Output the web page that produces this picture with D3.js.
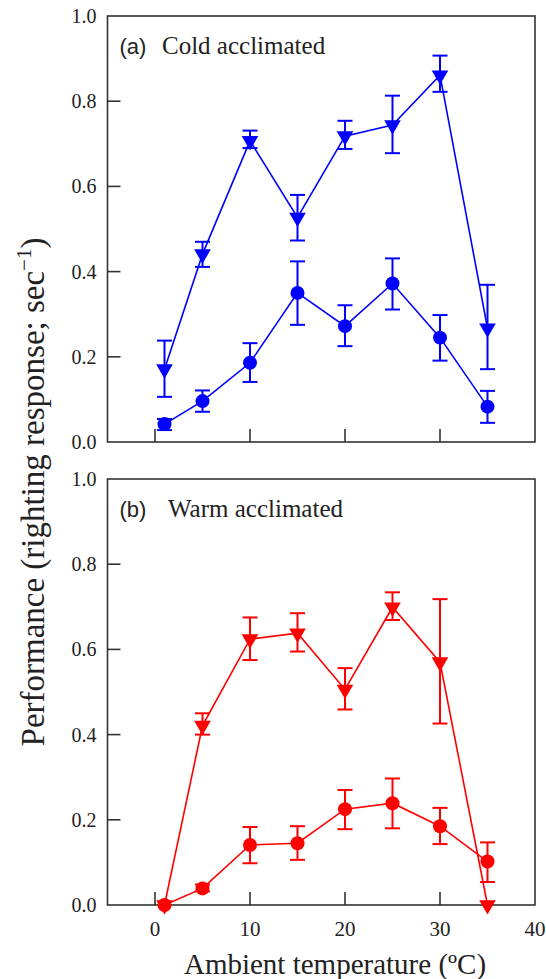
<!DOCTYPE html>
<html lang="en">
<head>
<meta charset="UTF-8">
<title>Righting performance vs ambient temperature</title>
<script src="https://d3js.org/d3.v7.min.js"></script>
<style>
  body { margin: 0; background: white; }
  text { font-family: "Liberation Serif", "Times New Roman", serif; fill: #222; }
</style>
</head>
<body>
<script>
// ambient temperatures (x) shared by all series
const temps = [1, 5, 10, 15, 20, 25, 30, 35];

// (a) cold acclimated
const coldTri   = [0.171, 0.441, 0.707, 0.527, 0.718, 0.744, 0.861, 0.267];
const coldTriLo = [0.106, 0.411, 0.690, 0.473, 0.688, 0.678, 0.822, 0.171];
const coldTriHi = [0.238, 0.470, 0.731, 0.580, 0.754, 0.813, 0.907, 0.369];
const coldCirc   = [0.042, 0.096, 0.186, 0.350, 0.272, 0.372, 0.245, 0.083];
const coldCircLo = [0.028, 0.071, 0.141, 0.275, 0.225, 0.311, 0.191, 0.045];
const coldCircHi = [0.054, 0.121, 0.232, 0.424, 0.321, 0.431, 0.298, 0.120];

// (b) warm acclimated
const warmTri   = [0.000, 0.421, 0.624, 0.638, 0.506, 0.699, 0.570, 0.000];
const warmTriLo = [null, 0.400, 0.575, 0.595, 0.459, 0.669, 0.426, null];
const warmTriHi = [null, 0.450, 0.675, 0.685, 0.556, 0.734, 0.718, null];
const warmCirc   = [0.000, 0.039, 0.141, 0.145, 0.225, 0.239, 0.185, 0.102];
const warmCircLo = [null, 0.032, 0.098, 0.106, 0.178, 0.180, 0.143, 0.054];
const warmCircHi = [null, 0.048, 0.183, 0.185, 0.270, 0.297, 0.228, 0.147];

const xTicks = [0, 10, 20, 30, 40];
const yTicks = [0.0, 0.2, 0.4, 0.6, 0.8, 1.0];

const width = 546, height = 979;
const left = 107.5, right = 535;

const svg = d3.select('body').append('svg')
    .attr('width', width)
    .attr('height', height);

const x = d3.scaleLinear().domain([-5, 40]).range([left, right]);

function series(vals, lo, hi) {
    return temps.map((t, i) => ({ t: t, v: vals[i], lo: lo[i], hi: hi[i] }));
}

function drawPanel(top, bottom, color, tri, circ, label, name, nameX, showXLabels) {
    const y = d3.scaleLinear().domain([0, 1]).range([bottom, top]);
    const g = svg.append('g');

    // frame
    g.append('rect')
        .attr('x', left).attr('y', top)
        .attr('width', right - left).attr('height', bottom - top)
        .attr('fill', 'none').attr('stroke', '#333').attr('stroke-width', 1.6);

    // inward ticks
    g.selectAll('.xt').data(xTicks.slice(0, -1)).enter().append('line')
        .attr('x1', d => x(d)).attr('x2', d => x(d))
        .attr('y1', bottom).attr('y2', bottom - 13)
        .attr('stroke', '#333').attr('stroke-width', 1.6);
    g.selectAll('.yt').data(yTicks.slice(1, -1)).enter().append('line')
        .attr('x1', left).attr('x2', left + 13)
        .attr('y1', d => y(d)).attr('y2', d => y(d))
        .attr('stroke', '#333').attr('stroke-width', 1.6);

    // y tick labels
    g.selectAll('.yl').data(yTicks).enter().append('text')
        .attr('x', left - 11).attr('y', d => y(d) + 7)
        .attr('text-anchor', 'end')
        .style('font-size', '20px')
        .text(d => d.toFixed(1));

    if (showXLabels) {
        g.selectAll('.xl').data(xTicks).enter().append('text')
            .attr('x', d => x(d)).attr('y', bottom + 31)
            .attr('text-anchor', 'middle')
            .style('font-size', '21px')
            .text(d => d);
    }

    // panel label
    g.append('text')
        .attr('x', left + 12).attr('y', top + 38)
        .style('font-family', '"Liberation Sans", Arial, sans-serif')
        .style('font-size', '22px')
        .text(label);
    g.append('text')
        .attr('x', nameX).attr('y', top + 38)
        .style('font-size', '25px')
        .text(name);

    const line = d3.line().x(d => x(d.t)).y(d => y(d.v));

    [tri, circ].forEach(s => {
        g.append('path').datum(s)
            .attr('d', line)
            .attr('fill', 'none')
            .attr('stroke', color)
            .attr('stroke-width', 1.6);

        const eb = s.filter(d => d.lo !== null);
        g.selectAll(null).data(eb).enter().append('line')
            .attr('x1', d => x(d.t)).attr('x2', d => x(d.t))
            .attr('y1', d => y(d.lo)).attr('y2', d => y(d.hi))
            .attr('stroke', color).attr('stroke-width', 2);
        ['lo', 'hi'].forEach(k => {
            g.selectAll(null).data(eb).enter().append('line')
                .attr('x1', d => x(d.t) - 7.5).attr('x2', d => x(d.t) + 7.5)
                .attr('y1', d => y(d[k])).attr('y2', d => y(d[k]))
                .attr('stroke', color).attr('stroke-width', 2);
        });
    });

    g.selectAll(null).data(tri).enter().append('path')
        .attr('d', d3.symbol(d3.symbolTriangle, 120)())
        .attr('transform', d => 'translate(' + x(d.t) + ',' + y(d.v) + ') rotate(180)')
        .attr('fill', color);

    g.selectAll(null).data(circ).enter().append('circle')
        .attr('cx', d => x(d.t)).attr('cy', d => y(d.v))
        .attr('r', 7)
        .attr('fill', color);
}

drawPanel(16, 442, '#0000ff',
    series(coldTri, coldTriLo, coldTriHi),
    series(coldCirc, coldCircLo, coldCircHi),
    '(a)', 'Cold acclimated', 162, false);

drawPanel(479, 905, '#ff0000',
    series(warmTri, warmTriLo, warmTriHi),
    series(warmCirc, warmCircLo, warmCircHi),
    '(b)', 'Warm acclimated', 168, true);

// axis titles
svg.append('text')
    .attr('x', 335).attr('y', 974)
    .attr('text-anchor', 'middle')
    .style('font-size', '29px')
    .text('Ambient temperature (ºC)');

const yt = svg.append('text')
    .attr('transform', 'translate(44,492) rotate(-90)')
    .attr('text-anchor', 'middle')
    .style('font-size', '33px');
yt.append('tspan').text('Performance (righting response; sec');
yt.append('tspan').attr('dy', -13).style('font-size', '21px').text('\u22121');
yt.append('tspan').attr('dy', 13).text(')');
</script>
</body>
</html>
